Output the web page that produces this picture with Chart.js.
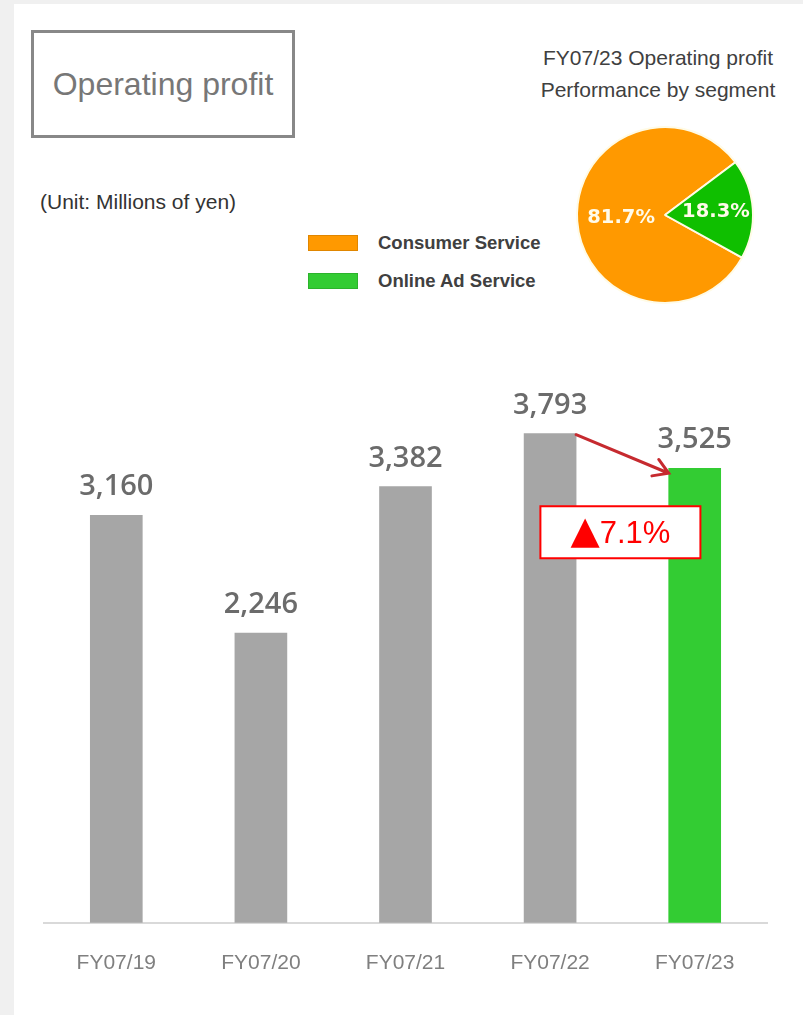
<!DOCTYPE html>
<html>
<head>
<meta charset="utf-8">
<script src="https://cdn.jsdelivr.net/npm/chart.js@4"></script>
<style>
  html, body { margin: 0; padding: 0; }
  body { width: 803px; height: 1015px; background: #f0f0f0; position: relative; overflow: hidden;
         font-family: "Liberation Sans", Arial, sans-serif; }
  #panel { position: absolute; left: 14px; top: 4px; right: 0; bottom: 0; background: #fff; }
  #titleBox { position: absolute; left: 31px; top: 30px; width: 264px; height: 108px; box-sizing: border-box;
              border: 3px solid #888; color: #777; font-size: 32px;
              display: flex; align-items: center; justify-content: center; }
  #pieTitle { position: absolute; left: 518px; top: 42px; width: 280px; text-align: center;
              font-size: 21px; line-height: 32px; color: #404040; }
  #unit { position: absolute; left: 40px; top: 190px; font-size: 21px; color: #333; }
  .legendRow { position: absolute; left: 308px; height: 20px; display: flex; align-items: center; }
  .legendRow span.sw { width: 50px; height: 16px; box-sizing: border-box; margin-right: 20px; }
  .legendRow span.tx { font-size: 18.5px; font-weight: bold; color: #404040; }
  #barWrap { position: absolute; left: 0; top: 330px; }
  #pieWrap { position: absolute; left: 570px; top: 120px; }
</style>
</head>
<body>
<div id="panel"></div>
<div id="titleBox">Operating profit</div>
<div id="pieTitle">FY07/23 Operating profit<br>Performance by segment</div>
<div id="unit">(Unit: Millions of yen)</div>
<div id="legend"></div>
<div id="barWrap"><canvas id="bars" width="803" height="674"></canvas></div>
<div id="pieWrap"><canvas id="pie" width="190" height="190"></canvas></div>

<script>
// fiscal years and operating profit (millions of yen)
const years = ["FY07/19", "FY07/20", "FY07/21", "FY07/22", "FY07/23"];
const profit = [3160, 2246, 3382, 3793, 3525];

// FY07/23 breakdown by segment (%)
const segments = ["Consumer Service", "Online Ad Service"];
const segmentShare = [81.7, 18.3];

const GRAY = "#a6a6a6";
const GREEN = "#33cc33";
const ORANGE = "#ff9900";
const PIE_GREEN = "#0fbf00";

// legend (html)
var legend = document.getElementById("legend");
var legendColors = [ORANGE, GREEN];
segments.forEach(function (name, i) {
  var row = document.createElement("div");
  row.className = "legendRow";
  row.style.top = (233 + i * 38) + "px";
  row.innerHTML = '<span class="sw" style="background:' + legendColors[i] + ';border:1px solid rgba(0,0,0,0.12)"></span>' +
    '<span class="tx">' + name + '</span>';
  legend.appendChild(row);
});

// numbers above the bars
const valueLabels = {
  id: "valueLabels",
  afterDatasetsDraw: function (chart) {
    var ctx = chart.ctx;
    var meta = chart.getDatasetMeta(0);
    ctx.save();
    ctx.font = "600 29px 'Open Sans', sans-serif";
    ctx.fillStyle = "#6b6b6b";
    ctx.textAlign = "center";
    ctx.textBaseline = "alphabetic";
    meta.data.forEach(function (bar, i) {
      ctx.fillText(profit[i].toLocaleString("en-US"), bar.x, bar.y - 20);
    });
    ctx.restore();
  }
};

// arrow + change badge between the last two years
const changeBadge = {
  id: "changeBadge",
  afterDraw: function (chart) {
    var ctx = chart.ctx;
    var meta = chart.getDatasetMeta(0);
    var n = profit.length;
    var a = meta.data[n - 2], b = meta.data[n - 1];
    var x1 = a.x + a.width / 2, y1 = a.y + 1;
    var x2 = b.x - b.width / 2, y2 = b.y + 5;
    ctx.save();
    ctx.strokeStyle = "#c62a2f";
    ctx.lineWidth = 3;
    ctx.lineCap = "round";
    ctx.beginPath();
    ctx.moveTo(x1, y1);
    ctx.lineTo(x2, y2);
    var ang = Math.atan2(y2 - y1, x2 - x1);
    var hl = 17;
    ctx.moveTo(x2 - hl * Math.cos(ang - 0.55), y2 - hl * Math.sin(ang - 0.55));
    ctx.lineTo(x2, y2);
    ctx.lineTo(x2 - hl * Math.cos(ang + 0.55), y2 - hl * Math.sin(ang + 0.55));
    ctx.stroke();

    var change = (profit[n - 1] - profit[n - 2]) / profit[n - 2] * 100;
    var mark = change < 0 ? "\u25B2" : "+";
    var num = Math.abs(change).toFixed(1) + "%";
    var cx = (a.x + b.x) / 2 - 2, cy = b.y + 64;
    var w = 160, h = 52;
    ctx.fillStyle = "#fff";
    ctx.fillRect(cx - w / 2, cy - h / 2, w, h);
    ctx.strokeStyle = "#ff0000";
    ctx.lineWidth = 2;
    ctx.strokeRect(cx - w / 2, cy - h / 2, w, h);
    ctx.fillStyle = "#ff0000";
    ctx.textBaseline = "alphabetic";
    ctx.textAlign = "left";
    var markFont = "38px 'DejaVu Sans', sans-serif";
    var numFont = "31px 'Liberation Sans', Arial, sans-serif";
    ctx.font = markFont;
    var mw = ctx.measureText(mark).width;
    ctx.font = numFont;
    var nw = ctx.measureText(num).width;
    var sx = cx - (mw + nw) / 2;
    var base = cy + 11;
    ctx.font = markFont;
    ctx.fillText(mark, sx, base);
    ctx.font = numFont;
    ctx.fillText(num, sx + mw, base);
    ctx.restore();
  }
};

new Chart(document.getElementById("bars").getContext("2d"), {
  type: "bar",
  data: {
    labels: years,
    datasets: [{
      data: profit,
      backgroundColor: years.map(function (y, i) { return i === years.length - 1 ? GREEN : GRAY; }),
      barThickness: 52,
      borderWidth: 0
    }]
  },
  options: {
    responsive: false,
    animation: false,
    layout: { padding: { left: 44, right: 36, top: 77, bottom: 0 } },
    plugins: { legend: { display: false }, tooltip: { enabled: false } },
    scales: {
      x: {
        grid: { display: false, drawTicks: false },
        border: { display: true, color: "#d9d9d9", width: 2 },
        ticks: { color: "#7f7f7f", padding: 28, font: { family: "'Liberation Sans', Arial, sans-serif", size: 21 } }
      },
      y: { display: false, min: 0, max: 4000 }
    }
  },
  plugins: [valueLabels, changeBadge]
});

// pie percentages
const pieLabels = {
  id: "pieLabels",
  afterDatasetsDraw: function (chart) {
    var ctx = chart.ctx;
    var meta = chart.getDatasetMeta(0);
    ctx.save();
    ctx.font = "bold 19.5px 'DejaVu Sans', Verdana, sans-serif";
    ctx.fillStyle = "#fffbea";
    ctx.textAlign = "center";
    ctx.textBaseline = "middle";
    meta.data.forEach(function (arc, i) {
      var mid = (arc.startAngle + arc.endAngle) / 2;
      var r = arc.outerRadius * (i === 0 ? 0.5 : 0.58);
      ctx.fillText(segmentShare[i].toFixed(1) + "%", arc.x + r * Math.cos(mid), arc.y + r * Math.sin(mid));
    });
    ctx.restore();
  }
};

new Chart(document.getElementById("pie").getContext("2d"), {
  type: "pie",
  data: {
    labels: segments,
    datasets: [{
      data: segmentShare,
      backgroundColor: [ORANGE, PIE_GREEN],
      borderColor: "#fffbe6",
      borderWidth: 2
    }]
  },
  options: {
    responsive: false,
    animation: false,
    rotation: 119,
    layout: { padding: 6 },
    plugins: { legend: { display: false }, tooltip: { enabled: false } }
  },
  plugins: [pieLabels]
});
</script>
</body>
</html>
